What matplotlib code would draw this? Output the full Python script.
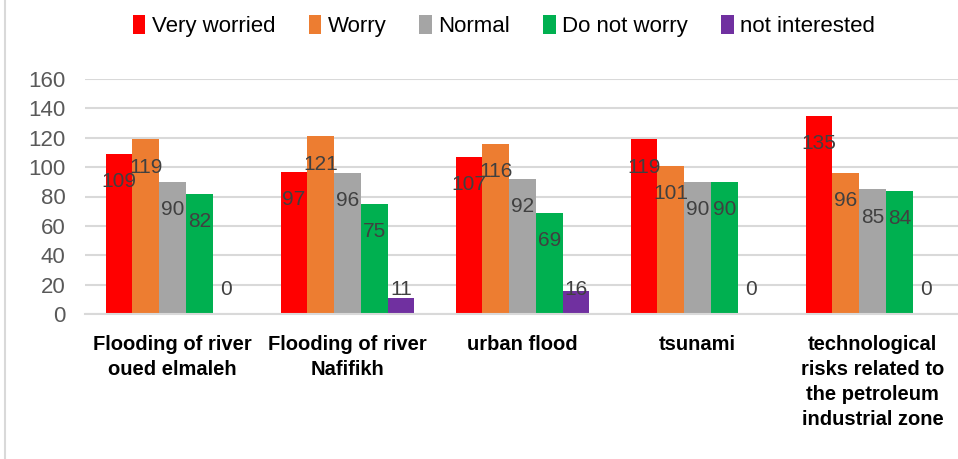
import matplotlib.pyplot as plt
import numpy as np
from matplotlib.patches import Patch
from matplotlib.lines import Line2D

categories = ["Flooding of river\noued elmaleh", "Flooding of river\nNafifikh", "urban flood",
              "tsunami", "technological\nrisks related to\nthe petroleum\nindustrial zone"]
series = ["Very worried", "Worry", "Normal", "Do not worry", "not interested"]
very_worried = [109, 97, 107, 119, 135]
worry = [119, 121, 116, 101, 96]
normal = [90, 96, 92, 90, 85]
do_not_worry = [82, 75, 69, 90, 84]
not_interested = [0, 11, 16, 0, 0]
colors = ["#ff0000", "#ed7d31", "#a5a5a5", "#00b050", "#7030a0"]


def main():
    plt.rcParams["font.family"] = ["Liberation Sans", "DejaVu Sans"]
    values = [very_worried, worry, normal, do_not_worry, not_interested]

    fig = plt.figure(figsize=(9.58, 4.59), dpi=100)
    ax = fig.add_axes([85 / 958, 1 - 314 / 459, 875 / 958, 235 / 459])
    x = np.arange(len(categories))
    w = 0.153
    for j, (vals, c) in enumerate(zip(values, colors)):
        pos = x + (j - 2) * w
        ax.bar(pos, vals, w, color=c, edgecolor="none", zorder=2)
        for px, v in zip(pos, vals):
            ax.text(px, max(v - 19, 17), str(v), ha="center", va="center",
                    fontsize=15, color="#404040", zorder=3)

    ax.set_xlim(-0.5, 4.5)
    ax.set_ylim(0, 160)
    ax.set_yticks(range(0, 161, 20))
    ax.set_xticks(x)
    ax.set_xticklabels(categories, fontsize=14.5, fontweight="bold", linespacing=1.4,
                       multialignment="center")
    ax.tick_params(axis="y", length=0, pad=14, labelsize=16, labelcolor="#595959")
    ax.tick_params(axis="x", length=0, pad=15)
    ax.grid(axis="y", color="#d9d9d9", linewidth=1.5, zorder=0)
    for s in ["top", "right", "left"]:
        ax.spines[s].set_visible(False)
    ax.spines["bottom"].set_color("#d9d9d9")
    ax.spines["bottom"].set_linewidth(1.5)

    handles = [Patch(facecolor=c, edgecolor="none") for c in colors]
    fig.legend(handles, series, loc="center", bbox_to_anchor=(504 / 958, 1 - 26 / 459),
               ncol=5, frameon=False, fontsize=16, handlelength=0.55, handleheight=0.95,
               handletextpad=0.3, columnspacing=1.5)

    fig.add_artist(Line2D([5 / 958, 5 / 958], [0, 1], color="#d9d9d9", linewidth=1.5))
    fig.savefig("out.png", dpi=100)


if __name__ == "__main__":
    main()
